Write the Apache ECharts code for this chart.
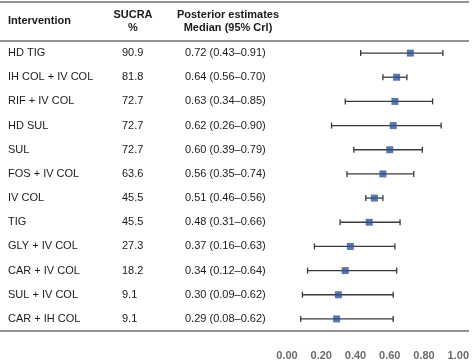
<!DOCTYPE html>
<html>
<head>
<meta charset="utf-8">
<script src="https://cdn.jsdelivr.net/npm/echarts@6/dist/echarts.min.js"></script>
<style>
    html, body { margin: 0; padding: 0; background: #fff; }
    #main { width: 472px; height: 361px; }
</style>
</head>
<body>
<div id="main"></div>
<script>
    // 数据
    var names = ['HD TIG', 'IH COL + IV COL', 'RIF + IV COL', 'HD SUL', 'SUL', 'FOS + IV COL',
        'IV COL', 'TIG', 'GLY + IV COL', 'CAR + IV COL', 'SUL + IV COL', 'CAR + IH COL'];
    var sucra = [90.9, 81.8, 72.7, 72.7, 72.7, 63.6, 45.5, 45.5, 27.3, 18.2, 9.1, 9.1];
    var median = [0.72, 0.64, 0.63, 0.62, 0.60, 0.56, 0.51, 0.48, 0.37, 0.34, 0.30, 0.29];
    var lower = [0.43, 0.56, 0.34, 0.26, 0.39, 0.35, 0.46, 0.31, 0.16, 0.12, 0.09, 0.08];
    var upper = [0.91, 0.70, 0.85, 0.90, 0.79, 0.74, 0.56, 0.66, 0.63, 0.64, 0.62, 0.62];
    var xTicks = [0, 0.2, 0.4, 0.6, 0.8, 1.0];

    var font = 'Liberation Sans, Arial, sans-serif';
    var gridLeft = 287;

    var sucraText = sucra.map(function (v) { return v.toFixed(1); });
    var estText = median.map(function (m, i) {
        return m.toFixed(2) + ' (' + lower[i].toFixed(2) + '\u2013' + upper[i].toFixed(2) + ')';
    });

    // 文字列 (用 y 轴标签)
    function textAxis(data, margin) {
        return {
            type: 'category',
            data: data,
            inverse: true,
            position: 'left',
            axisLine: { show: false },
            axisTick: { show: false },
            splitLine: { show: false },
            axisLabel: {
                margin: margin,
                align: 'left',
                color: '#1a1a1a',
                fontSize: 11,
                fontFamily: font
            }
        };
    }

    var myChart = echarts.init(document.getElementById('main'));
    var option = {
        animation: false,
        grid: { left: gridLeft, right: 12, top: 41, height: 290 },
        xAxis: {
            type: 'value',
            min: xTicks[0],
            max: xTicks[xTicks.length - 1],
            interval: 0.2,
            offset: 12,
            axisLine: { lineStyle: { color: '#c8c8c8', width: 1 } },
            axisTick: { show: false },
            splitLine: { show: false },
            axisLabel: {
                margin: 7,
                color: '#6b6b6b',
                fontWeight: 'bold',
                fontSize: 11,
                fontFamily: font,
                formatter: function (v) { return v.toFixed(2); }
            }
        },
        yAxis: [
            textAxis(names, gridLeft - 8),
            textAxis(sucraText, gridLeft - 122),
            textAxis(estText, gridLeft - 185)
        ],
        graphic: [
            // 表格横线
            { type: 'line', shape: { x1: 0, y1: 2, x2: 469, y2: 2 }, style: { stroke: '#6e6e6e', lineWidth: 1.5 } },
            { type: 'line', shape: { x1: 0, y1: 41, x2: 469, y2: 41 }, style: { stroke: '#6e6e6e', lineWidth: 1.5 } },
            { type: 'line', shape: { x1: 0, y1: 331, x2: 469, y2: 331 }, style: { stroke: '#6e6e6e', lineWidth: 1.5 } },
            // 表头
            {
                type: 'text', left: 8, top: 15,
                style: { text: 'Intervention', font: 'bold 11px ' + font, fill: '#1a1a1a' }
            },
            {
                type: 'text', x: 133, y: 8,
                style: { text: 'SUCRA\n%', font: 'bold 11px ' + font, fill: '#1a1a1a', align: 'center', lineHeight: 13 }
            },
            {
                type: 'text', x: 228, y: 8,
                style: { text: 'Posterior estimates\nMedian (95% Crl)', font: 'bold 11px ' + font, fill: '#1a1a1a', align: 'center', lineHeight: 13 }
            }
        ],
        series: [
            {
                // 置信区间
                type: 'custom',
                yAxisIndex: 0,
                data: names.map(function (n, i) { return [lower[i], upper[i], i]; }),
                renderItem: function (params, api) {
                    var p1 = api.coord([api.value(0), api.value(2)]);
                    var p2 = api.coord([api.value(1), api.value(2)]);
                    var h = 3;
                    var st = { stroke: '#3a3a3a', lineWidth: 1.3 };
                    return {
                        type: 'group',
                        children: [
                            { type: 'line', shape: { x1: p1[0], y1: p1[1], x2: p2[0], y2: p2[1] }, style: st },
                            { type: 'line', shape: { x1: p1[0], y1: p1[1] - h, x2: p1[0], y2: p1[1] + h }, style: st },
                            { type: 'line', shape: { x1: p2[0], y1: p2[1] - h, x2: p2[0], y2: p2[1] + h }, style: st }
                        ]
                    };
                }
            },
            {
                // 中位数
                type: 'scatter',
                yAxisIndex: 0,
                symbol: 'rect',
                symbolSize: 7,
                itemStyle: { color: '#2f5597' },
                data: median.map(function (m, i) { return [m, i]; }),
                z: 5
            }
        ]
    };
    myChart.setOption(option);
</script>
</body>
</html>
